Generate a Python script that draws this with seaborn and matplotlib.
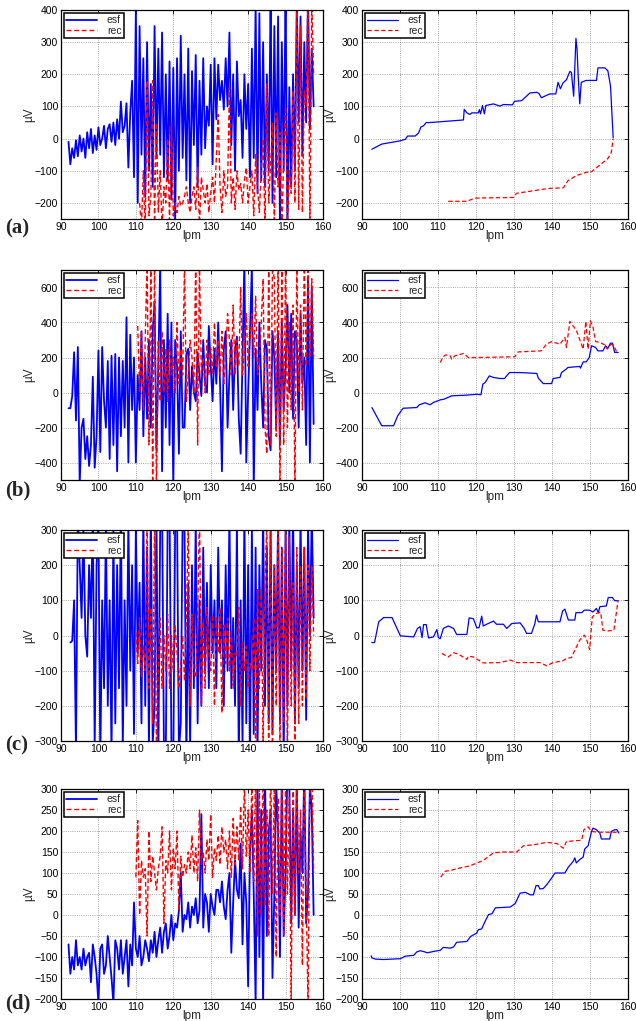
import numpy as np
import matplotlib
matplotlib.use('Agg')
import matplotlib.pyplot as plt
import seaborn as sns

# ---- left column: raw signals, sampled every 0.5 lpm ----
step = 0.5

a_esf_start = 92.0
a_esf = [-10, -80, -30, -60, -5, -55, 10, -40, 0, -60, 20, -30, 30, -45, 10, -35, 35, -20, 0, 40,
         -30, 30, 45, -10, 50, -20, 60, 0, 115, 20, 40, 110, -90, 80, 180, -120, 400, -200, 350, -50,
         250, -180, 300, -100, 170, -150, 350, -60, 280, -50, 330, -120, 200, -130, 240, -190, 220, -260, 250, -100,
         320, -60, 200, -130, 280, -200, 210, -20, 260, -150, 180, -50, 250, -30, 100, 40, 230, -80, 250, 60,
         230, 120, 180, 90, 250, 100, 330, -20, 200, -100, 240, 70, 120, -60, 200, 30, 170, -120, 280, -60,
         420, -170, 390, -130, 300, -150, 200, -100, 440, -200, 350, -120, 380, -270, 300, -100, 460, -280, 160, -150,
         200, -100, 430, 50, 380, -50, 300, 50, 450, 30, 280, 100]
a_rec_start = 111.0
a_rec = [-200, -270, -100, -290, 180, -240, -180, 180, -260, 50, -230, -100, -280, -150, -200, 0, -265, 50, -240, -200,
         -230, -180, -210, -200, -180, -150, -200, -230, -180, -150, -220, -90, -275, -120, -160, -200, -140, -230, -170, -120,
         -200, -60, 75, -150, -230, -100, -180, -150, 160, -200, -120, -220, -100, -160, -140, -200, -130, -90, -200, -150,
         -100, -240, -50, -150, -230, -100, 0, -280, 170, -200, -80, 50, -265, 80, -150, 20, -290, -50, 100, -270,
         -100, -170, 150, -200, 440, -220, 350, -230, 150, 100, 470, -280, 420, 200]

b_esf_start = 92.0
b_esf = [-90, -90, -20, 230, -160, 260, -520, -200, -150, -380, -250, -420, -300, 90, -430, -250, 240, -340, 260, -50,
         -200, 180, -380, 210, -300, 220, -450, 200, -250, 180, -200, 430, -400, 330, -100, 200, -400, 100, -100, 350,
         -250, 200, -150, 300, -200, 350, 520, -330, 150, 740, -450, 300, -200, 450, -300, 400, -540, 300, 150, -350,
         350, -200, -200, 220, 250, -100, 150, 0, -50, 230, 100, -20, 300, 50, 0, 380, 150, -50, 250, 50,
         400, 50, -450, 250, 350, -200, 100, 300, -100, 250, 320, -150, -350, 200, 760, -400, 0, 350, 730, -560,
         250, -100, 400, 50, -200, 300, 250, -250, -330, 350, 200, -200, 350, -300, 400, -100, 150, 500, 0, 450,
         -150, 350, 300, -200, 450, 50, 200, -300, 650, -400, 600, -180]
b_rec_start = 110.5
b_rec = [380, 0, 350, -100, 300, 760, -300, 720, -540, 800, -580, 300, -50, 350, 0, 250, -50, 300, 100, 200,
         0, 400, 50, 250, 100, 740, -50, 100, 300, 200, 0, 780, -300, 730, 100, 200, 0, 300, 100, 250,
         100, 400, 150, 300, 100, 350, 50, 200, 450, 300, 100, 500, 100, 300, 150, 600, 100, 250, 450, 150,
         300, 450, 200, 550, 100, 200, 400, 650, -200, -350, 760, -300, 720, 650, -250, 790, -540, 740, -300, 770,
         -200, 400, -100, 500, -560, 730, 0, 500, -100, 760, 150, 720, 200, 650, 200]

c_esf_start = 92.5
c_esf = [-20, -15, 100, -330, 340, 200, 50, 310, 0, -60, 200, 50, 350, -320, 200, 330, -360, 100, -150, 320,
         -200, 100, -340, 310, -250, 200, -150, 360, -320, 100, -200, 330, -100, 200, -280, 310, -50, 150, -250, 350,
         -200, 250, -330, 370, -310, -200, 340, -360, 310, 380, -320, -340, 330, 360, -310, -370, 320, 350, -330, -250,
         340, 310, -360, 150, -320, 200, -150, 330, -250, 100, -200, 250, -100, 150, -150, 200, -50, 100, -150, 250,
         -50, 100, -200, 200, -100, 340, -150, 50, -200, 320, -350, 100, -310, 360, -250, 200, -330, 310, -280, 250,
         -340, 200, -100, 350, -200, 250, -250, 320, -280, 200, -100, 340, -250, 250, -360, 310, -200, 330, -100, 370,
         -250, 200, -150, 340, -100, 250, -240, 320, 0, 350, 50]
c_rec_start = 110.0
c_rec = [10, -80, 50, -120, -30, -100, 330, -150, 80, -250, 350, -340, -100, 50, -150, 0, -100, 60, -150, 0,
         -100, 30, -50, -150, -80, 0, -130, 50, 320, -200, 60, -100, -120, 50, 360, -200, 40, -150, 80, -50,
         -100, 60, -200, 50, -50, 80, -220, 30, -80, 50, -100, 10, -150, -50, -60, 80, -200, -20, -100, -30,
         -150, -80, -100, 50, -340, 130, -150, 130, -310, 150, 330, -360, 350, -320, 200, -200, 370, -330, 250, -250,
         310, -350, 280, -200, 150, -320, 250, -250, 200, -200, 250, -180, 200, -100, 200, 0]

d_esf_start = 92.0
d_esf = [-70, -140, -100, -130, -60, -120, -100, -130, -80, -120, -100, -90, -160, -70, -100, -140, -210, -80, -70, -140,
         -120, -50, -100, -150, -210, -60, -80, -130, -60, -140, -100, -60, -170, -70, -120, 30, -80, -100, -50, -120,
         -100, -60, -80, -110, -60, -90, -40, -100, -60, -30, -90, -40, -20, -80, -50, 0, -60, -20, -30, 10,
         100, -40, 0, -10, 30, -30, 20, 0, 40, -20, 10, 240, -30, 50, 30, -40, 50, 20, 0, 60,
         60, 30, 80, 20, -10, 60, 100, -90, 30, 130, 60, 40, 170, -70, 100, 30, -170, 150, 250, 50,
         -210, 330, -100, 250, -220, 350, -50, 200, 250, -150, 50, 310, 200, -100, 340, -50, 100, 360, 320, -20,
         250, 0, 330, -30, 200, 100, 350, -20, 50, 310, 250, 0]
d_rec_start = 110.0
d_rec = [90, 225, 0, 130, 90, 110, -50, 200, 80, 140, 100, 60, 110, 140, 210, -20, 130, 100, 200, 60,
         160, 110, 200, 10, 140, 90, 120, 100, 150, 110, 190, 100, 160, 80, 250, 120, 150, 100, 180, 130,
         240, 90, 160, 130, 190, 120, 210, 150, 180, 110, 200, 90, 230, 120, 210, 130, 260, 110, 320, 140,
         250, 100, 330, 80, 360, -50, 310, 0, 345, 20, 250, -50, 370, 50, 305, -100, 280, 0, 335, -50,
         315, 50, 280, -210, 350, 0, 325, 100, 250, -120, 340, 50, -220, 310, 360, 100]

# ---- right column: smoothed curves ----
ar_esf_x = [92.6, 95.2, 100.0, 101.4, 102.0, 104.0, 104.9, 105.5, 106.2, 106.9, 107.9, 116.7, 116.9, 117.6, 118.4,
            118.9, 120.6, 120.9, 121.2, 121.7, 122.2, 122.6, 124.6, 126.3, 127.2, 129.6, 130.1, 132.0, 134.2, 136.0,
            136.6, 137.2, 138.1, 139.4, 141.0, 141.6, 142.2, 142.9, 143.8, 144.7, 145.1, 145.7, 146.3, 146.6, 146.9,
            147.3, 147.7, 149.0, 151.7, 152.1, 153.9, 154.7, 155.4, 156.1]
ar_esf_y = [-33, -17, -7, -2, 8, 8, 18, 36, 40, 50, 50, 58, 91, 80, 75, 80, 80, 90, 77, 103, 77, 103, 108, 101, 106,
            105, 116, 118, 142, 144, 140, 127, 132, 139, 139, 175, 155, 173, 183, 209, 206, 132, 312, 276, 193,
            108, 175, 181, 181, 220, 220, 211, 163, 3]
ar_rec_x = [112.7, 117.6, 119.7, 129.8, 130.7, 135.1, 139.0, 143.0, 144.2, 146.4, 149.0, 150.4, 152.6, 154.7, 155.6, 156.1]
ar_rec_y = [-195, -195, -185, -183, -170, -162, -155, -153, -131, -115, -105, -103, -82, -62, -43, 0]

br_esf_x = [92.6, 95.2, 98.3, 99.4, 100.8, 104.4, 105.1, 106.6, 107.9, 108.8, 110.6, 111.6, 113.6, 117.6, 120.2,
            121.3, 121.8, 122.4, 123.5, 124.6, 126.3, 127.5, 128.8, 131.6, 136.0, 136.4, 137.7, 139.9, 140.3, 142.1,
            142.5, 143.7, 144.2, 147.3, 147.5, 148.2, 149.0, 149.8, 150.4, 151.5, 152.1, 153.4, 154.1, 154.7, 155.4,
            155.9, 156.5, 157.4]
br_esf_y = [-86, -190, -190, -133, -90, -86, -70, -59, -70, -57, -42, -38, -19, -15, -10, -13, 48, 57, 95, 86,
            80, 80, 114, 114, 109, 82, 51, 51, 80, 86, 114, 133, 143, 149, 139, 175, 175, 200, 267, 257,
            238, 238, 267, 253, 282, 282, 229, 229]
br_rec_x = [110.6, 111.3, 112.1, 113.2, 113.6, 114.5, 116.7, 118.0, 120.2, 130.2, 131.1, 137.2, 138.5, 139.9, 142.1,
            143.4, 143.8, 144.7, 146.4, 148.2, 148.9, 149.5, 150.1, 150.8, 151.5, 152.6, 153.9, 154.5, 155.6, 156.2,
            156.9, 157.4]
br_rec_y = [171, 204, 215, 210, 190, 210, 223, 200, 200, 204, 232, 238, 276, 291, 276, 314, 257, 406, 356, 248,
            406, 248, 410, 371, 291, 286, 272, 248, 276, 270, 238, 229]

cr_esf_x = [92.6, 93.3, 94.4, 95.7, 97.9, 100.1, 103.6, 104.6, 105.3, 105.8, 106.2, 106.9, 107.5, 108.8, 109.7,
            110.1, 110.6, 111.4, 112.7, 114.1, 114.9, 117.6, 118.2, 119.3, 120.2, 120.8, 121.5, 121.9, 122.8, 124.6,
            125.4, 127.2, 128.1, 129.4, 131.6, 132.7, 133.3, 134.6, 135.5, 135.9, 136.4, 142.1, 142.8, 143.4, 144.3,
            146.0, 146.3, 147.8, 148.5, 149.9, 150.8, 151.7, 152.2, 152.6, 154.3, 154.8, 155.9, 156.5, 157.4]
cr_esf_y = [-20, -20, 39, 51, 51, -1, -4, 20, 25, -6, 31, 31, -7, -4, 17, -6, -9, 20, 27, 20, 3, 3, 50, 48, 22,
            22, 55, 27, 32, 41, 32, 32, 20, 34, 36, 20, 6, 6, 34, 58, 39, 39, 70, 75, 44, 44, 65, 65, 72, 72,
            67, 77, 65, 82, 84, 108, 108, 99, 99]
cr_rec_x = [111.0, 112.7, 114.1, 115.4, 117.6, 118.0, 119.3, 121.9, 126.3, 129.0, 130.7, 136.8, 138.6, 140.3, 142.9,
            143.8, 145.1, 146.0, 147.3, 148.5, 149.1, 149.9, 150.6, 151.7, 152.8, 153.4, 154.8, 156.3, 157.4]
cr_rec_y = [-51, -61, -49, -53, -68, -59, -61, -78, -77, -70, -77, -77, -86, -77, -72, -65, -63, -42, -13, 1,
            -11, -40, 53, 63, 66, 15, 13, 15, 101]

dr_esf_x = [92.4, 92.6, 93.5, 95.7, 100.1, 101.4, 103.6, 104.4, 105.3, 106.6, 107.1, 109.3, 110.6, 111.4, 113.2,
            114.1, 114.9, 117.6, 118.6, 120.2, 120.6, 121.5, 122.4, 123.3, 124.2, 125.1, 129.0, 130.3, 131.6, 133.0,
            134.3, 135.1, 135.8, 136.4, 136.8, 137.7, 138.6, 139.9, 140.8, 143.4, 144.3, 145.6, 146.0, 146.4, 147.3,
            148.2, 148.6, 149.5, 150.4, 150.8, 151.7, 152.6, 153.0, 155.2, 155.6, 156.5, 157.1, 157.6]
dr_esf_y = [-97, -102, -105, -106, -104, -98, -96, -88, -85, -88, -90, -86, -84, -77, -79, -76, -65, -63, -51, -43,
            -35, -33, -15, 1, 3, 17, 19, 27, 52, 54, 48, 48, 70, 70, 62, 63, 72, 88, 100, 100,
            114, 128, 136, 124, 132, 138, 157, 165, 199, 207, 203, 195, 181, 181, 199, 203, 203, 195]
dr_rec_x = [110.7, 111.8, 113.2, 115.8, 118.4, 121.9, 124.6, 127.2, 130.7, 132.5, 135.1, 138.6, 141.3, 143.0, 143.8,
            147.8, 148.4, 149.5, 150.4, 152.1, 155.6, 157.4]
dr_rec_y = [90, 104, 106, 112, 117, 130, 148, 150, 150, 165, 167, 173, 170, 159, 175, 178, 203, 210, 199, 197, 197, 197]

ylims = [(-250, 400), (-500, 700), (-300, 300), (-200, 300)]
yticks = [np.arange(-200, 401, 100), np.arange(-400, 601, 200), np.arange(-300, 301, 100), np.arange(-200, 301, 50)]
letters = ['(a)', '(b)', '(c)', '(d)']

sns.set_theme(style='white')
plt.rcParams['font.family'] = ['Liberation Sans', 'DejaVu Sans']

W, H = 636, 1021
fig = plt.figure(figsize=(W / 100, H / 100), dpi=100)

rows_px = [(10, 219), (270, 480), (530, 741), (789, 999)]
cols_px = [(61, 323), (362, 628)]
letter_y = [228, 490, 745, 1003]

left_data = [(a_esf_start, a_esf, a_rec_start, a_rec),
             (b_esf_start, b_esf, b_rec_start, b_rec),
             (c_esf_start, c_esf, c_rec_start, c_rec),
             (d_esf_start, d_esf, d_rec_start, d_rec)]
right_data = [(ar_esf_x, ar_esf_y, ar_rec_x, ar_rec_y),
              (br_esf_x, br_esf_y, br_rec_x, br_rec_y),
              (cr_esf_x, cr_esf_y, cr_rec_x, cr_rec_y),
              (dr_esf_x, dr_esf_y, dr_rec_x, dr_rec_y)]

dash = (0, (3.5, 2))


def style_axes(ax, r):
    ax.set_xlim(90, 160)
    ax.set_ylim(*ylims[r])
    ax.set_xticks(np.arange(90, 161, 10))
    ax.set_yticks(yticks[r])
    ax.grid(True, linestyle=':', color='0.55', linewidth=0.6)
    ax.tick_params(direction='in', length=3, width=0.6, labelsize=7.5, top=True, right=True,
                   pad=2, colors='black')
    for s in ax.spines.values():
        s.set_color('black')
        s.set_linewidth(0.9)
    ax.set_xlabel('lpm', fontsize=8.5, labelpad=-1)
    ax.set_ylabel('µV', fontsize=8.5, labelpad=0)
    leg = ax.legend(loc='upper left', fontsize=7.5, frameon=True, fancybox=False, edgecolor='black',
                    framealpha=1, handlelength=3.0, borderpad=0.25, labelspacing=0.05,
                    borderaxespad=0.25, handletextpad=0.9)
    leg.get_frame().set_linewidth(1.1)


for r in range(4):
    y0, y1 = rows_px[r]
    for c in range(2):
        x0, x1 = cols_px[c]
        ax = fig.add_axes([x0 / W, 1 - y1 / H, (x1 - x0) / W, (y1 - y0) / H])
        if c == 0:
            es, ev, rs, rv = left_data[r]
            ex = es + step * np.arange(len(ev))
            rx = rs + step * np.arange(len(rv))
            sns.lineplot(x=ex, y=ev, ax=ax, color='#0000ff', lw=1.3, label='esf', estimator=None, sort=False)
            sns.lineplot(x=rx, y=rv, ax=ax, color='#ff0000', lw=1.0, ls=dash, label='rec', estimator=None, sort=False)
        else:
            exs, eys, rxs, rys = right_data[r]
            sns.lineplot(x=exs, y=eys, ax=ax, color='#0000ff', lw=0.9, label='esf', estimator=None, sort=False)
            sns.lineplot(x=rxs, y=rys, ax=ax, color='#ff0000', lw=0.9, ls=dash, label='rec', estimator=None, sort=False)
        style_axes(ax, r)
    fig.text(5 / W, 1 - letter_y[r] / H, letters[r], fontsize=15, fontweight='bold',
             family=['Liberation Serif', 'DejaVu Serif'], ha='left', va='center')

fig.savefig('out.png', dpi=100)
